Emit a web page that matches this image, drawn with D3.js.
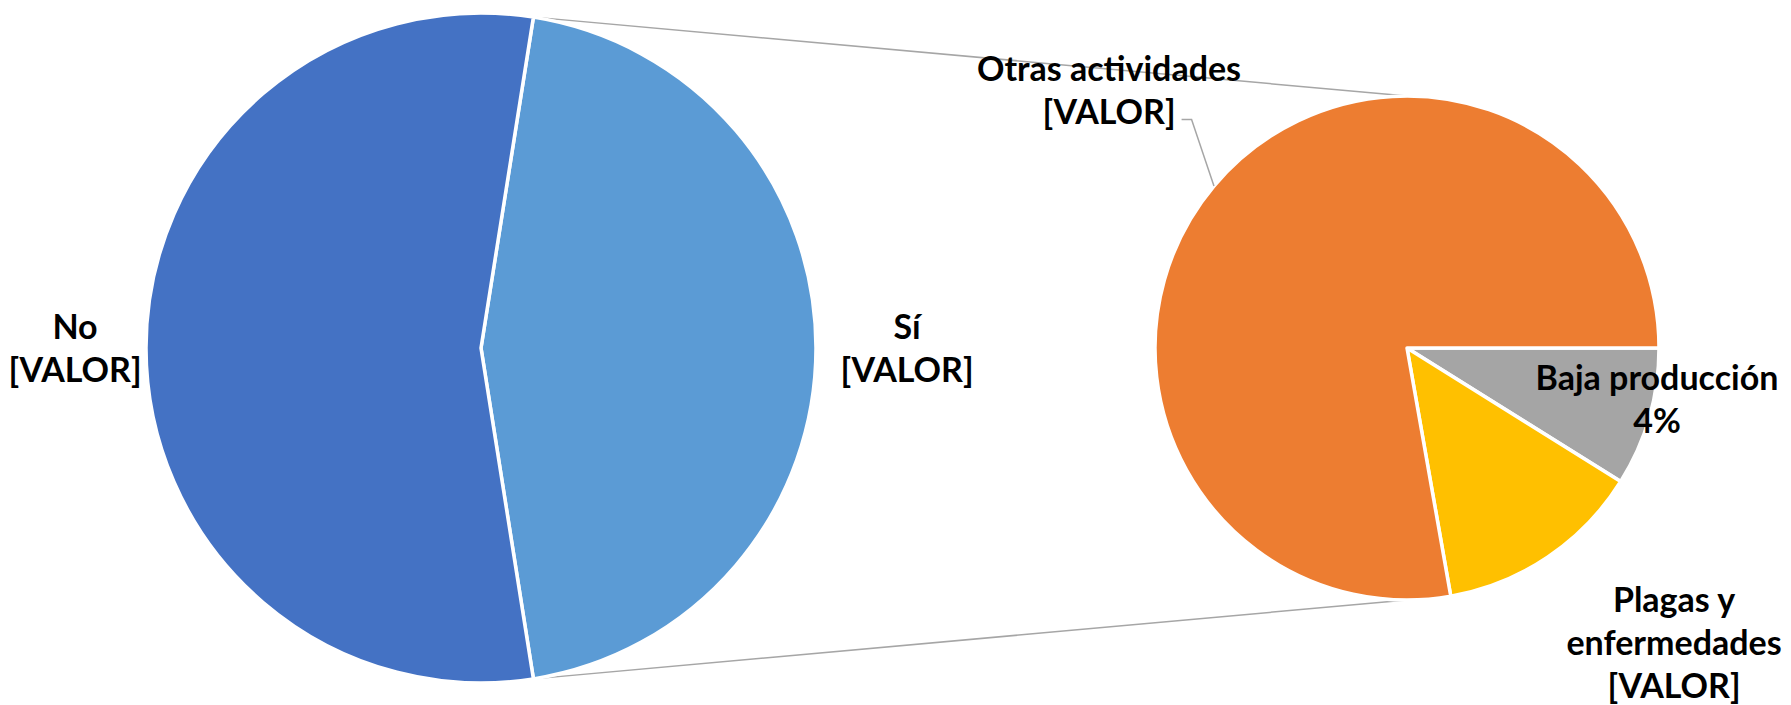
<!DOCTYPE html>
<html lang="es">
<head>
<meta charset="UTF-8">
<title>Pie of pie</title>
<style>
    html, body { margin: 0; padding: 0; background: #fff; }
    svg { display: block; }
    .lbl { font-family: Lato, "Open Sans", sans-serif; font-weight: bold; font-size: 34px; fill: #000; }
</style>
</head>
<body>
<svg id="chart"></svg>
<script src="https://cdn.jsdelivr.net/npm/d3@7"></script>
<script>
    // datos
    var mainNames = ["Sí", "No"];
    var mainValues = [45, 55];
    var mainValueText = ["[VALOR]", "[VALOR]"];
    var mainColors = ["#5B9BD5", "#4472C4"];

    // desglose de "Sí"
    var subNames = ["Baja producción", "Plagas y enfermedades", "Otras actividades"];
    var subValues = [4, 6, 35];
    var subValueText = ["4%", "[VALOR]", "[VALOR]"];
    var subColors = ["#A5A5A5", "#FFC000", "#ED7D31"];

    var width = 1791, height = 705;
    var lineH = 43;

    var svg = d3.select("#chart").attr("width", width).attr("height", height);

    var main = { cx: 481, cy: 348, r: 335 };
    var sub = { cx: 1407, cy: 348, r: 252 };

    // la porción "Sí" queda centrada hacia la derecha
    var siShare = mainValues[0] / d3.sum(mainValues);
    var mainStart = Math.PI / 2 - siShare * Math.PI;

    var mainPie = d3.pie().sort(null).value(d => d)
        .startAngle(mainStart).endAngle(mainStart + 2 * Math.PI);
    var subPie = d3.pie().sort(null).value(d => d)
        .startAngle(Math.PI / 2).endAngle(Math.PI / 2 + 2 * Math.PI);

    var mainArc = d3.arc().innerRadius(0).outerRadius(main.r);
    var subArc = d3.arc().innerRadius(0).outerRadius(sub.r);

    var mainArcs = mainPie(mainValues);
    var subArcs = subPie(subValues);

    function pt(c, r, a) {
        return [c.cx + r * Math.sin(a), c.cy - r * Math.cos(a)];
    }

    // lineas de conexion
    var si = mainArcs[0];
    var conn = [
        [pt(main, main.r, si.startAngle), pt(sub, sub.r, 0)],
        [pt(main, main.r, si.endAngle), pt(sub, sub.r, Math.PI)]
    ];
    svg.append("g").selectAll("line")
        .data(conn).enter().append("line")
        .attr("x1", d => d[0][0]).attr("y1", d => d[0][1])
        .attr("x2", d => d[1][0]).attr("y2", d => d[1][1])
        .attr("stroke", "#A6A6A6").attr("stroke-width", 1.5);

    svg.append("g").attr("transform", `translate(${main.cx},${main.cy})`)
        .selectAll("path").data(mainArcs).enter().append("path")
        .attr("d", mainArc)
        .attr("fill", (d, i) => mainColors[i])
        .attr("stroke", "#fff").attr("stroke-width", 3.5).attr("stroke-linejoin", "round");

    svg.append("g").attr("transform", `translate(${sub.cx},${sub.cy})`)
        .selectAll("path").data(subArcs).enter().append("path")
        .attr("d", subArc)
        .attr("fill", (d, i) => subColors[i])
        .attr("stroke", "#fff").attr("stroke-width", 3.5).attr("stroke-linejoin", "round");

    // posicion de etiquetas (centro, primera linea base)
    var labelPos = {
        "No": [75, 339],
        "Sí": [907, 339],
        "Otras actividades": [1109, 81],
        "Baja producción": [1657, 390],
        "Plagas y enfermedades": [1674, 612]
    };
    var wrap = { "Plagas y enfermedades": ["Plagas y", "enfermedades"] };

    var labels = mainNames.map((n, i) => ({ name: n, value: mainValueText[i] }))
        .concat(subNames.map((n, i) => ({ name: n, value: subValueText[i] })));

    labels.forEach(function (l) {
        var lines = (wrap[l.name] || [l.name]).concat([l.value]);
        var p = labelPos[l.name];
        var t = svg.append("text").attr("class", "lbl")
            .attr("text-anchor", "middle");
        lines.forEach(function (s, k) {
            t.append("tspan").attr("x", p[0]).attr("y", p[1] + k * lineH).text(s);
        });
        l.node = t;
    });

    // linea guia de "Otras actividades"
    var otras = subArcs[2];
    var otrasLbl = labels.find(l => l.name === "Otras actividades");
    var vb = otrasLbl.node.select("tspan:last-child").node().getBBox();
    var mid = (otras.startAngle + otras.endAngle) / 2;
    var end = pt(sub, sub.r, mid);
    var lx = vb.x + vb.width + 6, ly = vb.y + vb.height * 0.72;
    svg.append("polyline")
        .attr("points", [[lx, ly], [lx + 10, ly], end].map(d => d.join(",")).join(" "))
        .attr("fill", "none").attr("stroke", "#A6A6A6").attr("stroke-width", 1.5);
</script>
</body>
</html>
